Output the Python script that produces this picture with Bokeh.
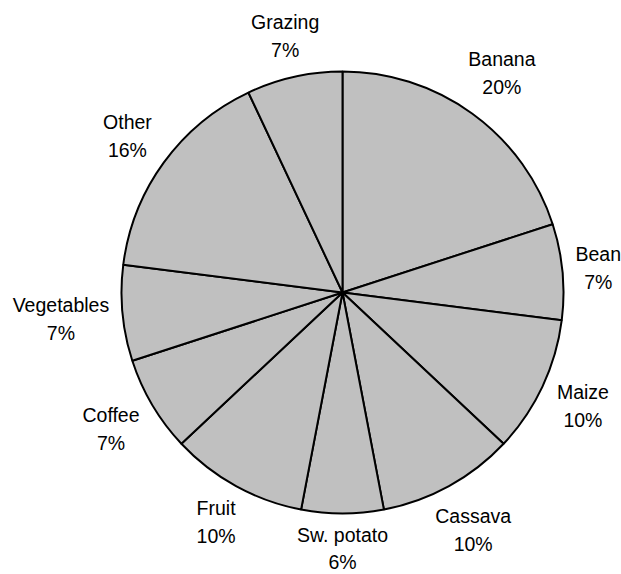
import math
from bokeh.plotting import figure
from bokeh.models import ColumnDataSource, Range1d
from bokeh.core.properties import value
from bokeh.embed import file_html
from bokeh.resources import INLINE

# ---- data ----
categories = ["Banana", "Bean", "Maize", "Cassava", "Sw. potato", "Fruit",
              "Coffee", "Vegetables", "Other", "Grazing"]
shares = [20, 7, 10, 10, 6, 10, 7, 7, 16, 7]

# ---- layout ----
W, H = 621, 574
CX, CY = 342, 282          # pie centre (data units, y up)
R = 221
FONT = "Liberation Sans"
FS = 19.5

# approximate Arial advance widths (em)
AW = {c: 0.556 for c in "abcdeghnopqu0123456789"}
AW.update({"f": 0.278, "i": 0.222, "j": 0.222, "l": 0.222, "t": 0.278,
           "r": 0.333, "s": 0.5, "v": 0.5, "w": 0.722, "z": 0.5, "y": 0.5,
           "k": 0.5, "m": 0.833, "x": 0.5, ".": 0.278, " ": 0.278,
           "%": 0.889, "B": 0.667, "M": 0.833, "C": 0.722, "S": 0.667,
           "F": 0.611, "V": 0.667, "O": 0.778, "G": 0.778})


def text_w(s):
    return sum(AW.get(ch, 0.6) for ch in s) * FS


total = float(sum(shares))
starts, ends, lx, ly, texts = [], [], [], [], []
cum = 0.0
for cat, v in zip(categories, shares):
    f0 = cum / total
    cum += v
    f1 = cum / total
    starts.append(math.pi / 2 - 2 * math.pi * f0)
    ends.append(math.pi / 2 - 2 * math.pi * f1)
    th = 2 * math.pi * (f0 + f1) / 2
    ux, uy = math.sin(th), math.cos(th)   # y up
    pct = f"{round(100 * v / total):d}%"
    hw = max(text_w(cat), text_w(pct)) / 2
    hh = 24
    d = R + 11 + abs(ux) * hw + abs(uy) * hh
    lx.append(CX + d * ux)
    ly.append(CY + d * uy)
    texts.append(f"{cat}\n{pct}")

src = ColumnDataSource(dict(start=starts, end=ends))
lsrc = ColumnDataSource(dict(x=lx, y=ly, t=texts))

p = figure(width=W, height=H, output_backend="svg", toolbar_location=None,
           x_range=Range1d(0, W), y_range=Range1d(0, H),
           min_border=0, outline_line_color=None)
p.axis.visible = False
p.grid.visible = False
p.background_fill_color = "white"
p.border_fill_color = "white"

p.wedge(x=CX, y=CY, radius=R, start_angle="start", end_angle="end",
        direction="clock", fill_color="#C0C0C0", line_color="black",
        line_width=2, source=src)

p.text(x="x", y="y", text="t", source=lsrc, text_align="center",
       text_baseline="middle", text_font=value(FONT),
       text_font_size=f"{FS}px", text_color="black", text_line_height=1.27)

open("out.html", "w").write(file_html(p, INLINE))
